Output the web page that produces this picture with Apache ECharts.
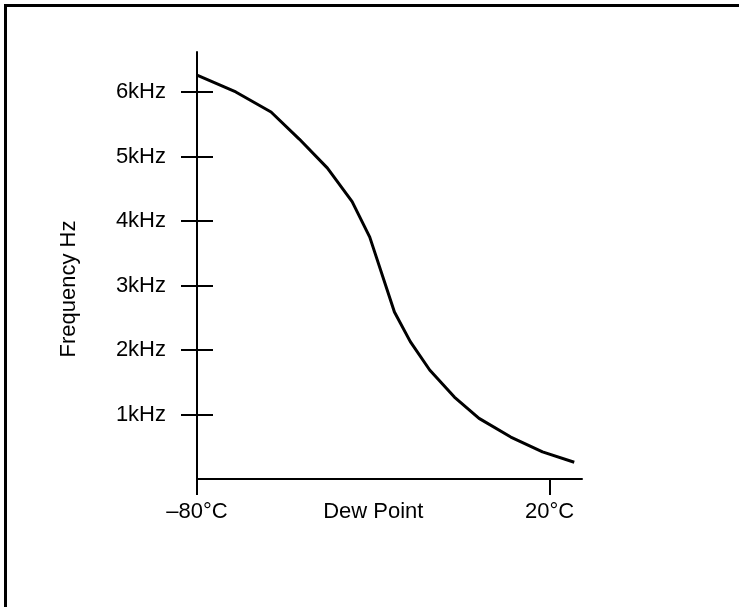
<!DOCTYPE html>
<html>
<head>
<meta charset="utf-8">
<script src="https://cdn.jsdelivr.net/npm/echarts@6/dist/echarts.min.js"></script>
<style>
html,body{margin:0;padding:0;background:#fff;}
#c{width:739px;height:607px;}
</style>
</head>
<body>
<div id="c"></div>
<script>
// Data
const tempC   = [-80, -69, -59, -51, -43, -36, -31, -24, -19.5, -14, -7, 0, 9, 18, 27];
const freqKHz = [6.26, 6.00, 5.69, 5.27, 4.82, 4.30, 3.75, 2.59, 2.13, 1.69, 1.27, 0.94, 0.65, 0.42, 0.26];
const yTickValues = [1, 2, 3, 4, 5, 6];
const xTickValues = [-80, 20];
const xLabelValues = [-80, -30, 20];
const xLabelTexts = ['–80°C', 'Dew Point', '20°C'];
const yAxisTitle = 'Frequency Hz';

const FONT = '"Liberation Sans", Arial, sans-serif';
const gridBox = { left: 197, right: 157, top: 52, bottom: 128 };

const chart = echarts.init(document.getElementById('c'), null, { renderer: 'canvas' });
chart.setOption({
  animation: false,
  backgroundColor: '#fff',
  grid: [Object.assign({}, gridBox), Object.assign({}, gridBox)],
  xAxis: [{
    type: 'value', gridIndex: 0, min: -80, max: 29.2,
    splitLine: { show: false },
    axisLine: { show: true, onZero: false, lineStyle: { color: '#000', width: 2 } },
    axisTick: { show: true, length: 16, customValues: xTickValues, lineStyle: { color: '#000', width: 2 } },
    axisLabel: {
      show: true, customValues: xLabelValues, margin: 22,
      color: '#000', fontSize: 22, fontFamily: FONT,
      formatter: v => xLabelTexts[xLabelValues.indexOf(v)]
    }
  }, {
    type: 'value', gridIndex: 1, min: -80, max: 29.2, show: false
  }],
  yAxis: [{
    type: 'value', gridIndex: 0, min: 0, max: 6.62,
    splitLine: { show: false },
    axisLine: { show: true, onZero: false, lineStyle: { color: '#000', width: 2 } },
    axisTick: { show: true, length: 16, customValues: yTickValues, lineStyle: { color: '#000', width: 2 } },
    axisLabel: {
      show: true, customValues: yTickValues, margin: 31, padding: [5, 0, 0, 0],
      color: '#000', fontSize: 22, fontFamily: FONT,
      formatter: v => v + 'kHz'
    }
  }, {
    type: 'value', gridIndex: 1, min: 0, max: 6.62,
    splitLine: { show: false },
    axisLine: { show: false, onZero: false },
    axisLabel: { show: false },
    axisTick: { show: true, inside: true, length: 16, customValues: yTickValues, lineStyle: { color: '#000', width: 2 } }
  }],
  graphic: [{
    type: 'rect', silent: true,
    shape: { x: 5.5, y: 5.5, width: 900, height: 900 },
    style: { fill: 'none', stroke: '#000', lineWidth: 3 }
  }, {
    type: 'text', x: 69, y: 289, rotation: Math.PI / 2,
    style: { text: yAxisTitle, fill: '#000', fontSize: 22, fontFamily: FONT, align: 'center', verticalAlign: 'middle' }
  }],
  series: [{
    type: 'line', xAxisIndex: 0, yAxisIndex: 0,
    data: tempC.map((t, i) => [t, freqKHz[i]]),
    showSymbol: false, smooth: false,
    lineStyle: { color: '#000', width: 3 }
  }]
});
</script>
</body>
</html>
